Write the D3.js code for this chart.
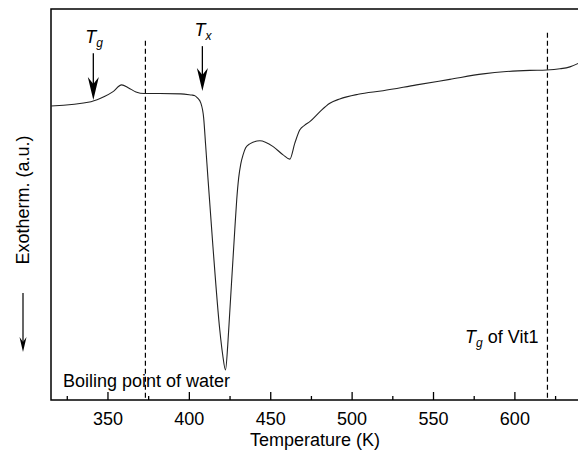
<!DOCTYPE html>
<html lang="en">
<head>
<meta charset="UTF-8">
<title>DSC curve</title>
<script src="https://d3js.org/d3.v7.min.js"></script>
<style>
    body { margin: 0; background: #fff; }
    svg { display: block; }
    text { font-family: "Liberation Sans", Arial, sans-serif; fill: #000; }
</style>
</head>
<body>
<svg id="chart" width="578" height="453"></svg>
<script>
// temperature (K) and heat flow (a.u.)
var temps = [315, 339.6, 347.8, 352.9, 358.4, 362.7, 367.2, 372.4, 381.8, 394.7, 401.3, 403.1, 405.1, 407.0,
    408.8, 410.0, 411.5, 414.5, 418.7, 420.5, 422.2, 423.6, 424.8, 427.9, 429.1, 430.3, 431.6, 433.0, 434.6, 437.1,
    443.3, 451.5, 457.6, 461.7, 464.8, 467.9, 470.9, 474.0, 480.1, 486.3, 492.4, 503.7, 519.0, 539.6,
    560.0, 580.5, 594.9, 609.2, 619.5, 627.7, 633.8, 639.5];
var heat = [7.52, 7.63, 7.76, 7.88, 8.06, 7.98, 7.88, 7.84, 7.84, 7.83, 7.80, 7.79, 7.72, 7.60,
    7.21, 6.52, 5.63, 3.92, 1.79, 1.15, 0.77, 1.41, 2.23, 4.35, 5.12, 5.68, 6.04, 6.27, 6.45, 6.55,
    6.63, 6.48, 6.27, 6.16, 6.57, 6.91, 7.03, 7.12, 7.37, 7.59, 7.70, 7.82, 7.91, 8.06,
    8.20, 8.34, 8.40, 8.43, 8.44, 8.47, 8.52, 8.62];
var majorTicks = [350, 400, 450, 500, 550, 600];
var minorTicks = [325, 375, 425, 475, 525, 575, 625];
var markers = [{t: 373, top: 9.19, label: "Boiling point of water"}, {t: 620, top: 9.39, label: "of Vit1"}];
var arrows = [{t: 341, from: 8.87, to: 7.67, sub: "g"}, {t: 408, from: 9.05, to: 7.90, sub: "x"}];

var svg = d3.select("#chart");
var x = d3.scaleLinear().domain([315, 640]).range([51, 580]);
var y = d3.scaleLinear().domain([0, 10]).range([400, 9]);

// frame
svg.append("rect")
    .attr("x", x(315)).attr("y", y(10))
    .attr("width", x(640) - x(315)).attr("height", y(0) - y(10))
    .attr("fill", "none").attr("stroke", "#000").attr("stroke-width", 1.5);

// ticks point inward
var g = svg.append("g");
g.selectAll(".major").data(majorTicks).join("line")
    .attr("x1", d => x(d)).attr("x2", d => x(d))
    .attr("y1", y(0)).attr("y2", y(0) - 8)
    .attr("stroke", "#000").attr("stroke-width", 1.3);
g.selectAll(".minor").data(minorTicks).join("line")
    .attr("class", "minor")
    .attr("x1", d => x(d)).attr("x2", d => x(d))
    .attr("y1", y(0)).attr("y2", y(0) - 4)
    .attr("stroke", "#000").attr("stroke-width", 1.3);
g.selectAll(".lab").data(majorTicks).join("text")
    .attr("class", "lab")
    .attr("x", d => x(d)).attr("y", 425)
    .attr("text-anchor", "middle").attr("font-size", 18)
    .text(d => d);

svg.append("text")
    .attr("x", (x(315) + x(640)) / 2 - 0.5).attr("y", 446)
    .attr("text-anchor", "middle").attr("font-size", 18)
    .text("Temperature (K)");

svg.append("text")
    .attr("transform", "translate(29,200) rotate(-90)")
    .attr("text-anchor", "middle").attr("font-size", 18)
    .text("Exotherm. (a.u.)");

function arrowHead(sel, tx, ty, hw, len, notch) {
    sel.append("path")
        .attr("d", `M${tx},${ty} L${tx - hw},${ty - len} L${tx},${ty - notch} L${tx + hw},${ty - len} Z`)
        .attr("fill", "#000");
}

// arrow beside y label
svg.append("line").attr("x1", 23).attr("x2", 23).attr("y1", 293).attr("y2", 345)
    .attr("stroke", "#000").attr("stroke-width", 1.2);
arrowHead(svg, 23, 352, 3.5, 15, 10);

// dashed markers
svg.selectAll(".mark").data(markers).join("line")
    .attr("class", "mark")
    .attr("x1", d => x(d.t)).attr("x2", d => x(d.t))
    .attr("y1", d => y(d.top)).attr("y2", y(0))
    .attr("stroke", "#000").attr("stroke-width", 1.2)
    .attr("stroke-dasharray", "5,3");

svg.append("text").attr("x", 63).attr("y", 387).attr("font-size", 18)
    .text(markers[0].label);

var vit = svg.append("text").attr("x", 465).attr("y", 343).attr("font-size", 18);
vit.append("tspan").attr("font-style", "italic").text("T");
vit.append("tspan").attr("font-style", "italic").attr("font-size", 12).attr("dy", 4).text("g");
vit.append("tspan").attr("dy", -4).text(" " + markers[1].label);

// Tg / Tx arrows
arrows.forEach(function(a) {
    var ax = x(a.t);
    svg.append("line").attr("x1", ax).attr("x2", ax)
        .attr("y1", y(a.from)).attr("y2", y(a.to) - 12)
        .attr("stroke", "#000").attr("stroke-width", 1.3);
    arrowHead(svg, ax, y(a.to), 5.5, 23, 16);
    var t = svg.append("text").attr("x", ax - 8).attr("y", y(a.from) - 10)
        .attr("font-size", 18).attr("font-style", "italic");
    t.append("tspan").text("T");
    t.append("tspan").attr("font-size", 12).attr("dy", 4).text(a.sub);
});

// DSC trace
var line = d3.line()
    .x((d, i) => x(temps[i]))
    .y(d => y(d))
    .curve(d3.curveMonotoneX);

svg.append("path")
    .datum(heat)
    .attr("d", line)
    .attr("fill", "none")
    .attr("stroke", "#222")
    .attr("stroke-width", 1.1);
</script>
</body>
</html>
